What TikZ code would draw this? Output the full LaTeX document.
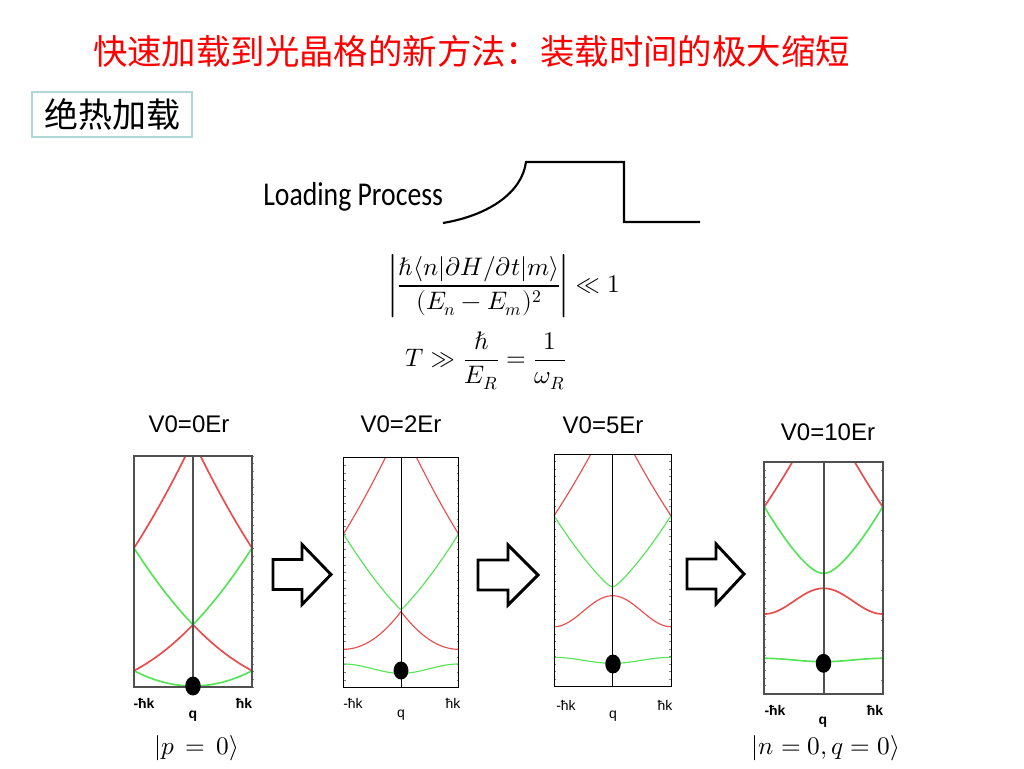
\documentclass[tikz,border=0pt]{standalone}
\usepackage{fontspec}
\usepackage{unicode-math}
\setmathfont{Latin Modern Math}
\usepackage{graphicx}
\usetikzlibrary{shapes.geometric}
\newfontfamily\cjk{Noto Sans CJK SC}
\newfontfamily\arial{Liberation Sans}
\newfontfamily\calibri{Carlito}
\definecolor{bandred}{RGB}{235,75,75}
\definecolor{bandgreen}{RGB}{85,228,85}
\definecolor{boxteal}{RGB}{175,215,215}
\definecolor{framegray}{RGB}{80,80,80}
\begin{document}
\begin{tikzpicture}[x=0.75pt,y=-0.75pt,
  declare function={hv(\u,\d)=(sqrt(\d*\d+\u*\u)-\d)/(sqrt(\d*\d+1)-\d);
                     gs(\v)=(4*\v+\v*\v)/5;},
  rbt/.style={draw=bandred, line width=1.25pt, line join=round},
  gbt/.style={draw=bandgreen, line width=1.25pt, line join=round},
  rbn/.style={draw=bandred, line width=0.85pt, line join=round},
  gbn/.style={draw=bandgreen, line width=0.85pt, line join=round},
  framethick/.style={draw=framegray, line width=1.5pt},
  framethin/.style={draw=black, line width=0.7pt},
  tick/.style={draw=gray, line width=0.4pt},
  dot/.style={ellipse, fill=black, inner sep=0pt, minimum width=11.6pt, minimum height=14.2pt},
  vlabel/.style={font=\arial\fontsize{18}{20}\selectfont},
  axb/.style={font=\arial\bfseries\fontsize{10.5}{12}\selectfont},
  axr/.style={font=\arial\fontsize{10.5}{12}\selectfont},
  ket/.style={font=\fontsize{19}{22}\selectfont},
  blockarrow/.style={draw=black, line width=2.2pt, line join=miter, fill=white}
]
\useasboundingbox (0,0) rectangle (1024,768);

% Title
\node[text=red, font=\cjk\fontsize{25.8}{29}\selectfont] (title) at (471.5,51) {快速加载到光晶格的新方法：装载时间的极大缩短};
% Box
\node[draw=boxteal, line width=2pt, minimum width=120pt, minimum height=33.75pt, inner sep=0pt,
      font=\cjk\fontsize{25.5}{28}\selectfont] (adiab) at (112,114.5) {绝热加载};

% Loading process
\node[font=\calibri\fontsize{20.8}{24}\selectfont, anchor=base west, inner sep=0pt] (lp) at (263,205) {\scalebox{1}[1.2]{Loading Process}};
\coordinate (c0) at (443,223);
\coordinate (c1) at (526,162);
\coordinate (c2) at (624,162);
\coordinate (c3) at (624,222);
\coordinate (c4) at (700,222);
\draw[line width=1.6pt] (c0) .. controls (490,215) and (522,192) .. (c1) -- (c2) -- (c3) -- (c4);

% Equations
\node[font=\fontsize{19}{22}\selectfont] (eq1) at (505,286)
  {$\displaystyle \left|\frac{\hbar\langle n|\partial H/\partial t|m\rangle}{(E_n-E_m)^2}\right|\ll 1$};
\node[font=\fontsize{19}{22}\selectfont] (eq2) at (486,361)
  {$\displaystyle T\gg\frac{\hbar}{E_R}=\frac{1}{\omega_R}$};

% ---------- Panel 1 (V0=0) ----------
\node[vlabel] (v1) at (189,424) {V0=0Er};
\foreach \k in {0,...,30} {\draw[tick] (252,{456+7.7*\k}) -- (254,{456+7.7*\k});}
\draw[gbt] plot[domain=-1:1, samples=81] ({193+59*\x},{686-15.33*(abs(\x))^2});
\draw[rbt] plot[domain=-1:1, samples=81] ({193+59*\x},{686-15.33*(2-abs(\x))^2});
\draw[gbt] plot[domain=-1:1, samples=81] ({193+59*\x},{686-15.33*(2+abs(\x))^2});
\draw[rbt] plot[domain=-1:-0.127, samples=40] ({193+59*\x},{686-15.33*(4-abs(\x))^2});
\draw[rbt] plot[domain=0.127:1, samples=40] ({193+59*\x},{686-15.33*(4-abs(\x))^2});
\draw[framethick] (193,456) -- (193,687);
\draw[framethick] (134,456) rectangle (252,687);
\node[dot] (d1) at (193,686) {};
\node[axb] (l1a) at (144,703) {-ħk};
\node[axb] (l1b) at (244,703) {ħk};
\node[axb] (l1q) at (193,716) {q};
\node[ket] (k1) at (197,748) {$|p\,=\,0\rangle$};

% ---------- Panel 2 (V0=2) ----------
\node[vlabel] (v2) at (401,424) {V0=2Er};
\foreach \k in {0,...,30} {\draw[tick] (343.5,{457.5+7.67*\k}) -- (345.5,{457.5+7.67*\k});
                          \draw[tick] (456.5,{457.5+7.67*\k}) -- (458.5,{457.5+7.67*\k});}
\draw[gbn] plot[domain=-1:1, samples=81] ({401+57.5*\x},{668.65+4.65*cos(180*\x)});
\draw[rbn] plot[domain=-1:1, samples=81] ({401+57.5*\x},{611.5+37.8*(2*abs(\x)-(abs(\x))^2)});
\draw[gbn] plot[domain=-1:1, samples=81] ({401+57.5*\x},{609.3-75.3*gs(hv(abs(\x),0.02))});
\draw[rbn] plot[domain=-1:-0.27, samples=40] ({401+57.5*\x},{534-15.6*((4-abs(\x))^2-9)});
\draw[rbn] plot[domain=0.27:1, samples=40] ({401+57.5*\x},{534-15.6*((4-abs(\x))^2-9)});
\draw[framethin] (401,457.5) -- (401,687.5);
\draw[framethin] (343.5,457.5) rectangle (458.5,687.5);
\node[dot, minimum width=11.2pt, minimum height=13.5pt] (d2) at (401,670.5) {};
\node[axr] (l2a) at (353,703) {-ħk};
\node[axr] (l2b) at (453,703) {ħk};
\node[axr] (l2q) at (401,715) {q};

% ---------- Panel 3 (V0=5) ----------
\node[vlabel] (v3) at (603,425) {V0=5Er};
\foreach \k in {0,...,30} {\draw[tick] (554,{454+7.5*\k}) -- (556,{454+7.5*\k});
                          \draw[tick] (669,{454+7.5*\k}) -- (671,{454+7.5*\k});}
\draw[gbn] plot[domain=-1:1, samples=81] ({612.5+58.5*\x},{660.3+3*cos(180*\x)});
\draw[rbn] plot[domain=-1:1, samples=81] ({612.5+58.5*\x},{595.7+31*(1-cos(180*\x))/2});
\draw[gbn] plot[domain=-1:1, samples=81] ({612.5+58.5*\x},{586.7-71*gs(hv(abs(\x),0.07))});
\draw[rbn] plot[domain=-1:-0.37, samples=40] ({612.5+58.5*\x},{515.7-14.76*((4-abs(\x))^2-9)});
\draw[rbn] plot[domain=0.37:1, samples=40] ({612.5+58.5*\x},{515.7-14.76*((4-abs(\x))^2-9)});
\draw[framethin] (612.5,454) -- (612.5,686.7);
\draw[framethin] (554,454) rectangle (671,686.7);
\node[dot] (d3) at (613,664) {};
\node[axr] (l3a) at (566,705) {-ħk};
\node[axr] (l3b) at (665,705) {ħk};
\node[axr] (l3q) at (613,716) {q};

% ---------- Panel 4 (V0=10) ----------
\node[vlabel] (v4) at (828,432) {V0=10Er};
\foreach \k in {0,...,30} {\draw[tick] (764.3,{462.3+7.7*\k}) -- (766.3,{462.3+7.7*\k});}
\foreach \k in {0,...,7} {\draw[tick] (880.7,{470+30*\k}) -- (882.7,{470+30*\k});}
\draw[gbt] plot[domain=-1:1, samples=81] ({823.5+59.2*\x},{660+1.7*cos(180*\x)});
\draw[rbt] plot[domain=-1:1, samples=81] ({823.5+59.2*\x},{588.3+25.7*(1-cos(180*\x))/2});
\draw[gbt] plot[domain=-1:1, samples=81] ({823.5+59.2*\x},{573.3-66.6*gs(hv(abs(\x),0.25))});
\draw[rbt] plot[domain=-1:-0.53, samples=40] ({823.5+59.2*\x},{506.7-14.6*((4-abs(\x))^2-9)});
\draw[rbt] plot[domain=0.53:1, samples=40] ({823.5+59.2*\x},{506.7-14.6*((4-abs(\x))^2-9)});
\draw[framethick] (823.5,462.3) -- (823.5,694);
\draw[framethick] (764.3,462.3) rectangle (882.7,694);
\node[dot] (d4) at (823.5,663.3) {};
\node[axb] (l4a) at (775,710) {-ħk};
\node[axb] (l4b) at (875,710) {ħk};
\node[axb] (l4q) at (823,722) {q};
\node[ket] (k4) at (826,748) {$|n=0,q=0\rangle$};

% ---------- Block arrows ----------
\foreach \L/\H/\T/\c in {273/302/331/574.5, 478/508/538/575, 687/716/744/574} {
  \draw[blockarrow] (\L,\c-15) -- (\H,\c-15) -- (\H,\c-30) -- (\T,\c) -- (\H,\c+30) -- (\H,\c+15) -- (\L,\c+15) -- cycle;
}
\end{tikzpicture}
\end{document}
